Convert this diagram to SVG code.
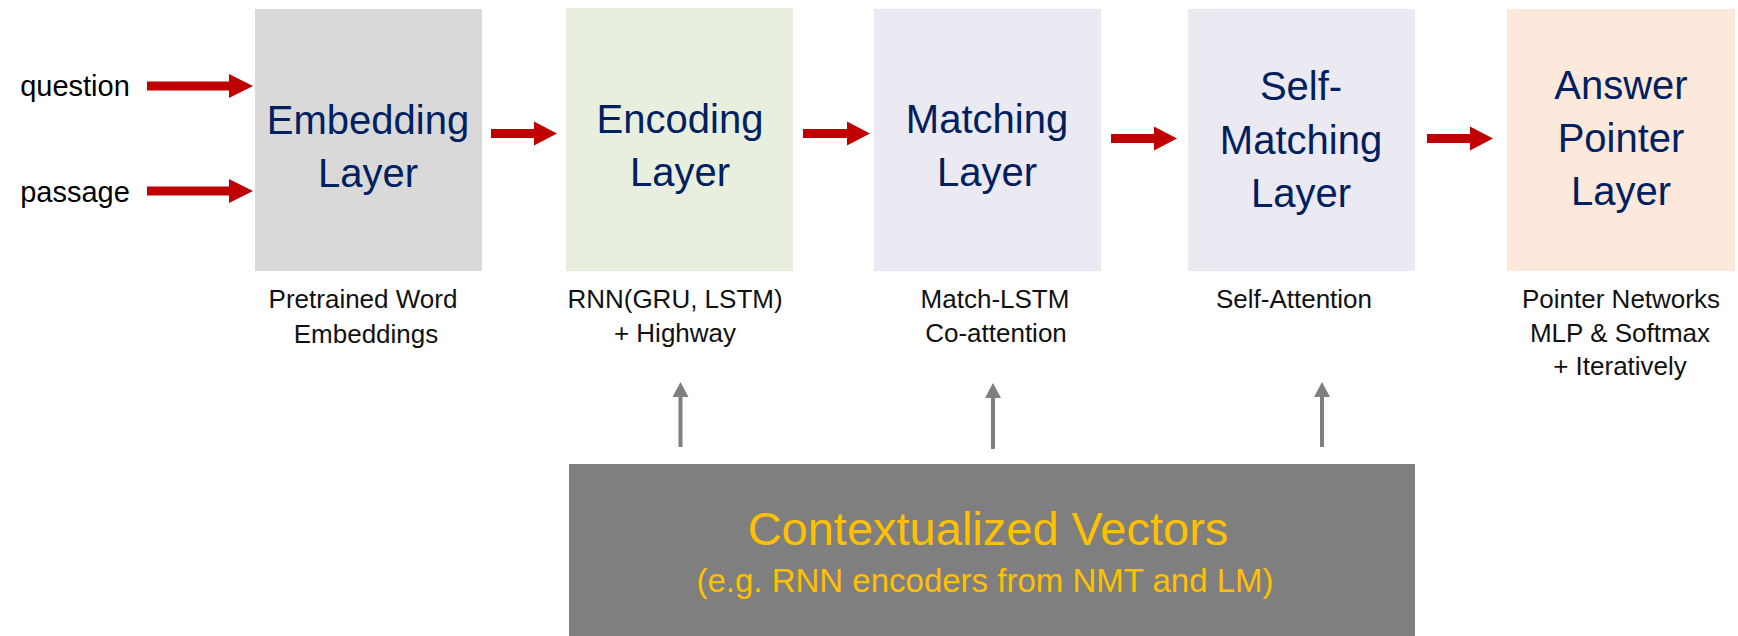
<svg xmlns="http://www.w3.org/2000/svg" width="1738" height="636" viewBox="0 0 1738 636">
<style>
.title{font-family:"Liberation Sans",Arial,sans-serif;font-size:40px;fill:#002060;text-anchor:middle}
.sub{font-family:"Liberation Sans",Arial,sans-serif;font-size:26px;fill:#111;text-anchor:middle}
.in{font-family:"Liberation Sans",Arial,sans-serif;font-size:29px;fill:#000;text-anchor:middle}
.ctx{font-family:"Liberation Sans",Arial,sans-serif;fill:#ffc000;text-anchor:middle}
.red{fill:#c00000}
.gray{fill:#7f7f7f}
</style>
<rect width="1738" height="636" fill="#fff"/>

<g id="inputs">
<text class="in" x="75" y="96">question</text>
<text class="in" x="75" y="202">passage</text>
</g>

<g id="embedding">
<rect x="255" y="9" width="227" height="262" fill="#d9d9d9"/>
<text class="title" x="368" y="134">Embedding</text>
<text class="title" x="368" y="187">Layer</text>
<text class="sub" x="363" y="308">Pretrained Word</text>
<text class="sub" x="366" y="343">Embeddings</text>
</g>

<g id="encoding">
<rect x="566" y="8" width="227" height="263" fill="#e9efdf"/>
<text class="title" x="680" y="133">Encoding</text>
<text class="title" x="680" y="186">Layer</text>
<text class="sub" x="675" y="308">RNN(GRU, LSTM)</text>
<text class="sub" x="675" y="342">+ Highway</text>
</g>

<g id="matching">
<rect x="874" y="9" width="227" height="262" fill="#ebe9f1"/>
<text class="title" x="987" y="133">Matching</text>
<text class="title" x="987" y="186">Layer</text>
<text class="sub" x="995" y="308">Match-LSTM</text>
<text class="sub" x="996" y="342">Co-attention</text>
</g>

<g id="selfmatching">
<rect x="1188" y="9" width="227" height="262" fill="#ebe9f1"/>
<text class="title" x="1301" y="100">Self-</text>
<text class="title" x="1301" y="154">Matching</text>
<text class="title" x="1301" y="207">Layer</text>
<text class="sub" x="1294" y="308">Self-Attention</text>
</g>

<g id="answerpointer">
<rect x="1507" y="9" width="228" height="262" fill="#fce9dc"/>
<text class="title" x="1621" y="99">Answer</text>
<text class="title" x="1621" y="152">Pointer</text>
<text class="title" x="1621" y="205">Layer</text>
<text class="sub" x="1621" y="308">Pointer Networks</text>
<text class="sub" x="1620" y="342">MLP &amp; Softmax</text>
<text class="sub" x="1620" y="375">+ Iteratively</text>
</g>

<g id="contextualized">
<rect x="569" y="464" width="846" height="172" fill="#7f7f7f"/>
<text class="ctx" x="988" y="545" font-size="47">Contextualized Vectors</text>
<text class="ctx" x="985" y="592" font-size="33">(e.g. RNN encoders from NMT and LM)</text>
</g>

<g id="connectors">
<g class="red">
<path d="M147,81.5 H229 V74 L253,86 L229,98 V90.5 H147 Z"/>
<path d="M147,186.5 H229 V179 L253,191 L229,203 V195.5 H147 Z"/>
<path d="M491,129 H534 V121.5 L557,133.5 L534,145.5 V138 H491 Z"/>
<path d="M803,129 H847 V121.5 L870,133.5 L847,145.5 V138 H803 Z"/>
<path d="M1111,134 H1154 V126.5 L1177,138.5 L1154,150.5 V143 H1111 Z"/>
<path d="M1427,134 H1470 V126.5 L1493,138.5 L1470,150.5 V143 H1427 Z"/>
</g>
<g class="gray">
<path d="M678.5,447 V397 H672.5 L680.5,382 L688.5,397 H682.5 V447 Z"/>
<path d="M991,449 V398 H985 L993,383 L1001,398 H995 V449 Z"/>
<path d="M1320,447 V397 H1314 L1322,382 L1330,397 H1324 V447 Z"/>
</g>
</g>
</svg>
